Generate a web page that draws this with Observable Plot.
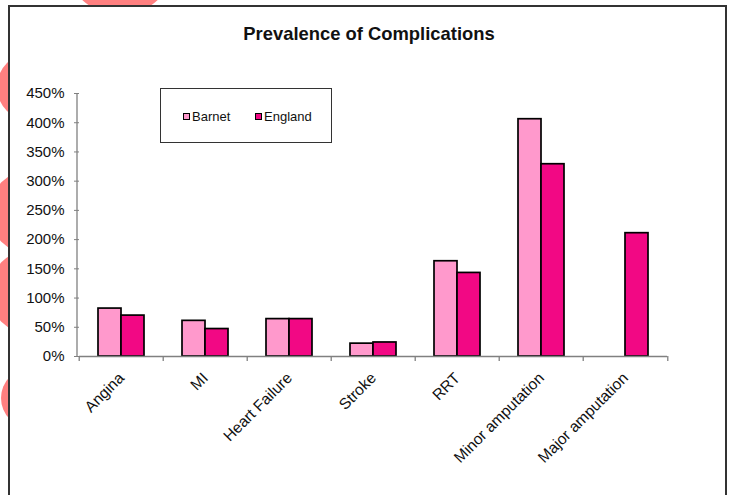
<!DOCTYPE html>
<html>
<head>
<meta charset="utf-8">
<script src="https://cdn.jsdelivr.net/npm/d3@7"></script>
<script src="https://cdn.jsdelivr.net/npm/@observablehq/plot@0.6"></script>
<style>
  html, body { margin: 0; padding: 0; }
  body {
    width: 733px; height: 495px; overflow: hidden; position: relative;
    background: #fff; font-family: "Liberation Sans", Arial, sans-serif; color: #111;
  }
  .dot { position: absolute; border-radius: 50%; background: #ff8080; }
  #box {
    position: absolute; left: 8px; top: 5px; width: 719px; height: 540px;
    box-sizing: border-box; border: 2px solid #333; background: #fff;
  }
  #title {
    position: absolute; left: 8px; width: 722px; top: 25px; text-align: center;
    font-size: 18.4px; line-height: 18.4px; font-weight: bold; color: #111;
  }
  #chart { position: absolute; left: 0; top: 0; }
  #legend {
    position: absolute; left: 160px; top: 88px; width: 172px; height: 55px;
    box-sizing: border-box; border: 1.5px solid #333; background: #fff;
  }
  .item { position: absolute; top: 19px; height: 16px; display: flex; align-items: center; font-size: 13px; }
  .sw { width: 5px; height: 5px; border: 1px solid #000; margin-right: 2px; }
</style>
</head>
<body>
<!-- slide background circles -->
<div class="dot" style="left:65px;top:-95px;width:110px;height:110px"></div>
<div class="dot" style="left:-3px;top:53px;width:68px;height:68px"></div>
<div class="dot" style="left:-11px;top:170px;width:84px;height:84px"></div>
<div class="dot" style="left:-11px;top:250px;width:84px;height:84px"></div>
<div class="dot" style="left:1px;top:368px;width:60px;height:60px"></div>

<div id="box"></div>
<div id="title">Prevalence of Complications</div>
<div id="chart"></div>
<div id="legend"></div>

<script>
// Prevalence of complications, Barnet vs England
const categories = ["Angina", "MI", "Heart Failure", "Stroke", "RRT", "Minor amputation", "Major amputation"];
const seriesNames = ["Barnet", "England"];
const barnet  = [0.82, 0.61, 0.64, 0.22, 1.63, 4.06, null];
const england = [0.70, 0.47, 0.64, 0.24, 1.43, 3.29, 2.11];
const yTicks = [0, 0.5, 1, 1.5, 2, 2.5, 3, 3.5, 4, 4.5];
const seriesColors = ["#FF99CC", "#F20884"];

const rows = categories.flatMap((c, i) => [
  {category: c, series: "Barnet", value: barnet[i]},
  {category: c, series: "England", value: england[i]}
]).filter(d => d.value != null);

const W = 733, H = 440, ML = 77, MR = 64, MT = 93, MB = 84;
const step = (W - ML - MR) / categories.length;
const axisGrey = "#808080";

const chart = Plot.plot({
  width: W, height: H,
  marginLeft: ML, marginRight: MR, marginTop: MT, marginBottom: MB,
  style: {fontFamily: "Liberation Sans, Arial, sans-serif", fontSize: "15px", color: "#111", background: "transparent", overflow: "visible"},
  fx: {domain: categories, padding: 0, label: null},
  x: {domain: seriesNames, padding: 0, insetLeft: 18.3, insetRight: 18.3, axis: null},
  y: {domain: [0, 4.5], axis: null},
  color: {domain: seriesNames, range: seriesColors},
  marks: [
    Plot.barY(rows, {fx: "category", x: "series", y: "value", fill: "series", stroke: "#000", strokeWidth: 1.7}),
    Plot.ruleY([0], {stroke: axisGrey, strokeWidth: 1.3}),
    Plot.axisY({ticks: yTicks, tickFormat: d3.format(".0%"), tickSize: 5, tickPadding: 10, stroke: axisGrey, fill: "#111", fontSize: 15, label: null}),
    // category boundary ticks
    Plot.axisFx({anchor: "bottom", tickSize: 5, tickFormat: () => "", dx: -step / 2, stroke: axisGrey, strokeWidth: 1.3, label: null}),
    Plot.axisFx({anchor: "bottom", ticks: [categories[categories.length - 1]], tickSize: 5, tickFormat: () => "", dx: step / 2, stroke: axisGrey, strokeWidth: 1.3, label: null}),
    // rotated category labels
    Plot.axisFx({anchor: "bottom", tickSize: 0, tickRotate: -45, tickPadding: 19, dx: 0, fontSize: 15.5, fill: "#111", label: null})
  ]
});
document.getElementById("chart").appendChild(chart);

// vertical value axis line, placed with the plot's own y scale
const y = chart.scale("y");
d3.select(chart).append("line")
  .attr("x1", ML).attr("x2", ML)
  .attr("y1", y.apply(4.5)).attr("y2", y.apply(0))
  .attr("stroke", axisGrey).attr("stroke-width", 1.3);

// legend
const legend = document.getElementById("legend");
const offsets = [22, 94];
seriesNames.forEach((name, i) => {
  const item = document.createElement("div");
  item.className = "item";
  item.style.left = offsets[i] + "px";
  const sw = document.createElement("span");
  sw.className = "sw";
  sw.style.background = seriesColors[i];
  const label = document.createElement("span");
  label.textContent = name;
  item.appendChild(sw);
  item.appendChild(label);
  legend.appendChild(item);
});
</script>
</body>
</html>
